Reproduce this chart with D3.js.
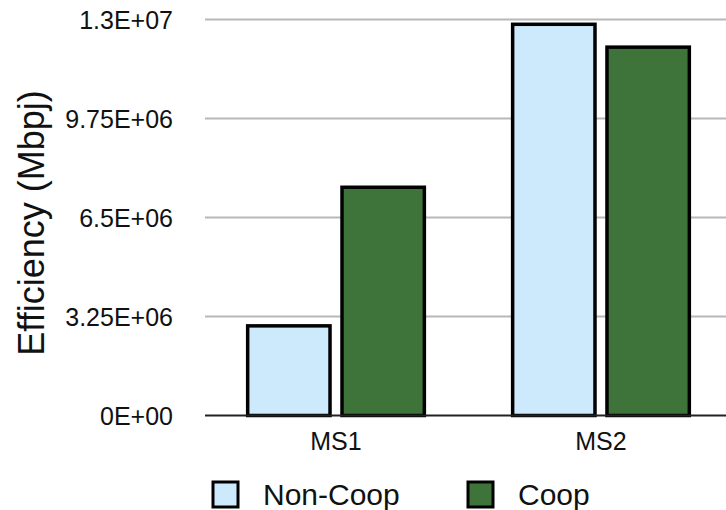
<!DOCTYPE html>
<html>
<head>
<meta charset="utf-8">
<script src="https://cdn.jsdelivr.net/npm/d3@7"></script>
<style>
  html, body { margin: 0; padding: 0; background: #fff; }
  svg { display: block; font-family: "Liberation Sans", Arial, Helvetica, sans-serif; }
</style>
</head>
<body>
<svg id="chart" width="726" height="510"></svg>
<script>
// Chart data
const categories = ["MS1", "MS2"];
const seriesNames = ["Non-Coop", "Coop"];
const nonCoopValues = [3.0e6, 1.29e7];
const coopValues = [7.55e6, 1.215e7];
const yTickValues = [0, 3.25e6, 6.5e6, 9.75e6, 1.3e7];
const yTickLabels = ["0E+00", "3.25E+06", "6.5E+06", "9.75E+06", "1.3E+07"];
const seriesColors = ["#cdeafd", "#3e743a"];

const svg = d3.select("#chart");

const y = d3.scaleLinear().domain([0, 1.3e7]).range([415.5, 19.5]);
const x0 = d3.scaleBand().domain(categories).range([203, 734])
  .paddingInner(0.32).paddingOuter(0.162);
const x1 = d3.scaleBand().domain(seriesNames).range([0, x0.bandwidth()])
  .paddingInner(0.09);
const color = d3.scaleOrdinal().domain(seriesNames).range(seriesColors);

// Horizontal gridlines
svg.append("g")
  .selectAll("line")
  .data(yTickValues.filter(v => v > 0))
  .join("line")
  .attr("x1", 205).attr("x2", 726)
  .attr("y1", d => y(d)).attr("y2", d => y(d))
  .attr("stroke", "#b8b8b8")
  .attr("stroke-width", 2);

// Y tick labels
svg.append("g")
  .selectAll("text")
  .data(yTickValues)
  .join("text")
  .attr("x", 173)
  .attr("y", d => y(d) + 9)
  .attr("text-anchor", "end")
  .attr("font-size", 25)
  .attr("fill", "#111")
  .text((d, i) => yTickLabels[i]);

// Y axis title
svg.append("text")
  .attr("transform", "translate(44,223) rotate(-90)")
  .attr("text-anchor", "middle")
  .attr("font-size", 36)
  .attr("fill", "#111")
  .text("Efficiency (Mbpj)");

// Bars
const rows = categories.map((c, i) => ({
  category: c,
  values: [
    { name: seriesNames[0], value: nonCoopValues[i] },
    { name: seriesNames[1], value: coopValues[i] }
  ]
}));

const sw = 3.5;
svg.append("g")
  .selectAll("g")
  .data(rows)
  .join("g")
  .attr("transform", d => `translate(${x0(d.category)},0)`)
  .selectAll("rect")
  .data(d => d.values)
  .join("rect")
  .attr("x", d => x1(d.name) + sw / 2)
  .attr("width", x1.bandwidth() - sw)
  .attr("y", d => y(d.value) + sw / 2)
  .attr("height", d => y(0) - y(d.value) - sw / 2)
  .attr("fill", d => color(d.name))
  .attr("stroke", "#000")
  .attr("stroke-width", sw);

// Baseline
svg.append("line")
  .attr("x1", 205).attr("x2", 726)
  .attr("y1", y(0)).attr("y2", y(0))
  .attr("stroke", "#222")
  .attr("stroke-width", 2);

// Category labels
svg.append("g")
  .selectAll("text")
  .data(categories)
  .join("text")
  .attr("x", d => x0(d) + x0.bandwidth() / 2)
  .attr("y", 450)
  .attr("text-anchor", "middle")
  .attr("font-size", 25)
  .attr("fill", "#111")
  .text(d => d);

// Legend
const legendX = [213, 468];
const legend = svg.append("g")
  .selectAll("g")
  .data(seriesNames)
  .join("g")
  .attr("transform", (d, i) => `translate(${legendX[i]},482)`);
legend.append("rect")
  .attr("width", 25).attr("height", 25)
  .attr("fill", d => color(d))
  .attr("stroke", "#000")
  .attr("stroke-width", 3);
legend.append("text")
  .attr("x", 50)
  .attr("y", 23)
  .attr("font-size", 30)
  .attr("fill", "#111")
  .text(d => d);
</script>
</body>
</html>
